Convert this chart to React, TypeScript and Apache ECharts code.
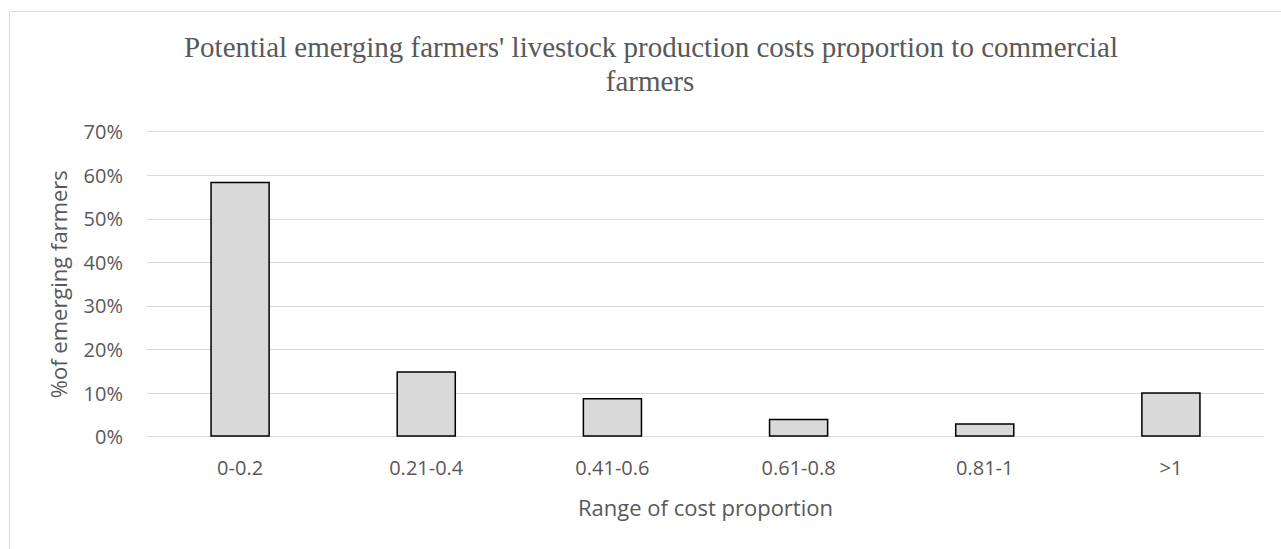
import React, { useEffect, useRef } from "react";
import * as echarts from "echarts";

const categories = ["0-0.2", "0.21-0.4", "0.41-0.6", "0.61-0.8", "0.81-1", ">1"];
const shares = [0.585, 0.15, 0.089, 0.041, 0.031, 0.102];
const yTicks = { min: 0, max: 0.7, interval: 0.1 };
const titleLine1 = "Potential emerging farmers' livestock production costs proportion to commercial";
const titleLine2 = "farmers";
const xName = "Range of cost proportion";
const yName = "%of emerging farmers";

export default function App() {
  const ref = useRef<HTMLDivElement>(null);
  useEffect(() => {
    if (!ref.current) return;
    const chart = echarts.init(ref.current, null, { renderer: "svg" });
    const sans = "'Open Sans', 'Noto Sans', sans-serif";
    const serif = "'Liberation Serif', 'DejaVu Serif', serif";
    const titleStyle = { fontFamily: serif, fontSize: 29, fill: "#595959", textAlign: "center", textVerticalAlign: "middle" };
    chart.setOption({
      animation: false,
      backgroundColor: "#ffffff",
      graphic: [
        {
          type: "rect",
          shape: { x: 9.5, y: 11.5, width: 1400, height: 700 },
          style: { fill: "none", stroke: "#d9d9d9", lineWidth: 1 },
          silent: true,
        },
        { type: "text", x: 651, y: 47, style: { ...titleStyle, text: titleLine1 }, silent: true },
        { type: "text", x: 650, y: 81, style: { ...titleStyle, text: titleLine2 }, silent: true },
      ],
      grid: { left: 147, right: 17, top: 131.7, bottom: 112.3 },
      xAxis: {
        type: "category",
        data: categories,
        name: xName,
        nameLocation: "middle",
        nameGap: 59,
        nameTextStyle: { fontFamily: sans, fontSize: 22, color: "#595959" },
        axisLine: { lineStyle: { color: "#d9d9d9", width: 1 } },
        axisTick: { show: false },
        axisLabel: { fontFamily: sans, fontSize: 20, color: "#595959", margin: 21 },
      },
      yAxis: {
        type: "value",
        min: yTicks.min,
        max: yTicks.max,
        interval: yTicks.interval,
        name: yName,
        nameLocation: "middle",
        nameGap: 78,
        nameTextStyle: { fontFamily: sans, fontSize: 22, color: "#595959" },
        axisLine: { show: false },
        axisTick: { show: false },
        splitLine: { lineStyle: { color: "#d9d9d9", width: 1 } },
        axisLabel: {
          fontFamily: sans,
          fontSize: 20,
          color: "#595959",
          margin: 24,
          formatter: (v: number) => Math.round(v * 100) + "%",
        },
      },
      series: [
        {
          type: "bar",
          data: shares,
          barCategoryGap: "68%",
          itemStyle: { color: "#d9d9d9", borderColor: "#000000", borderWidth: 1.5 },
        },
      ],
    });
    return () => chart.dispose();
  }, []);
  return (
    <div
      ref={ref}
      style={{ position: "fixed", left: 0, top: 0, width: 1281, height: 549 }}
    />
  );
}
